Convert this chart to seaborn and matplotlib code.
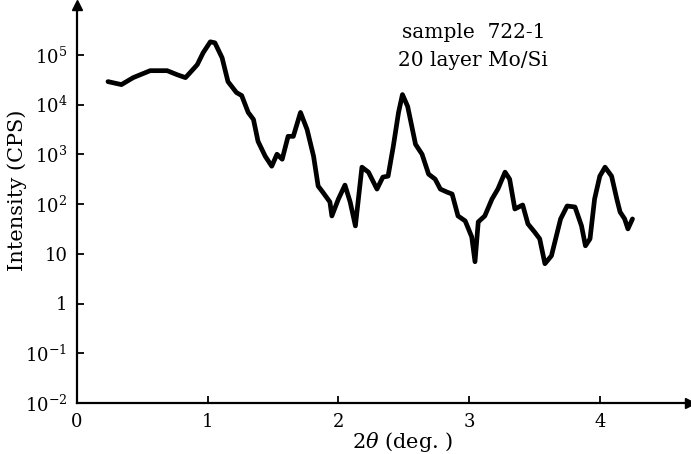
import matplotlib
matplotlib.use("Agg")
import matplotlib.pyplot as plt
import seaborn as sns
import numpy as np
import pandas as pd

# ---- data ----
two_theta = [0.237, 0.34, 0.43, 0.56, 0.69, 0.765, 0.83, 0.865, 0.92, 0.965,
             1.02, 1.055, 1.11, 1.155, 1.22, 1.26, 1.31, 1.35, 1.385, 1.44,
             1.49, 1.53, 1.57, 1.615, 1.655, 1.71, 1.76, 1.81, 1.845, 1.88,
             1.935, 1.95, 2.00, 2.05, 2.09, 2.13, 2.18, 2.23, 2.295, 2.34,
             2.38, 2.42, 2.46, 2.49, 2.53, 2.59, 2.64, 2.69, 2.74, 2.78,
             2.83, 2.87, 2.915, 2.97, 3.02, 3.045, 3.07, 3.12, 3.175, 3.22,
             3.275, 3.31, 3.35, 3.41, 3.45, 3.50, 3.54, 3.58, 3.63, 3.70,
             3.75, 3.81, 3.86, 3.89, 3.925, 3.96, 4.00, 4.04, 4.09, 4.13,
             4.155, 4.19, 4.215, 4.25]
log10_intensity = [4.46, 4.40, 4.54, 4.68, 4.68, 4.60, 4.54, 4.64, 4.80, 5.04,
                   5.26, 5.24, 4.94, 4.46, 4.24, 4.18, 3.84, 3.70, 3.26, 2.96,
                   2.76, 3.00, 2.90, 3.36, 3.36, 3.84, 3.50, 2.96, 2.36, 2.24,
                   2.04, 1.76, 2.10, 2.38, 2.04, 1.56, 2.74, 2.64, 2.30, 2.54,
                   2.56, 3.16, 3.84, 4.20, 3.96, 3.20, 3.00, 2.60, 2.50, 2.30,
                   2.24, 2.20, 1.76, 1.66, 1.34, 0.84, 1.64, 1.76, 2.10, 2.30,
                   2.64, 2.50, 1.90, 1.98, 1.60, 1.44, 1.30, 0.80, 0.96, 1.70,
                   1.96, 1.94, 1.56, 1.16, 1.30, 2.10, 2.56, 2.74, 2.56, 2.10,
                   1.84, 1.70, 1.50, 1.70]

x_ticks = [0, 1, 2, 3, 4]
x_tick_labels = ["0", "1", "2", "3", "4"]
y_ticks = [1e-2, 1e-1, 1, 10, 1e2, 1e3, 1e4, 1e5]
y_tick_labels = [r"10$^{-2}$", r"10$^{-1}$", "1", "10",
                 r"10$^{2}$", r"10$^{3}$", r"10$^{4}$", r"10$^{5}$"]
annotation_lines = ["sample  722-1", "20 layer Mo/Si"]

df = pd.DataFrame({"two_theta": two_theta,
                   "intensity": np.power(10.0, log10_intensity)})

sns.set_style("ticks")
plt.rcParams["font.family"] = ["DejaVu Serif"]
plt.rcParams["mathtext.fontset"] = "dejavuserif"
plt.rcParams["text.color"] = "black"
plt.rcParams["axes.labelcolor"] = "black"

W, H = 691, 454
fig = plt.figure(figsize=(W / 100, H / 100), dpi=100)
ax = fig.add_axes([77 / W, (H - 403) / H, (690 - 77) / W, (403 - 5) / H])

sns.lineplot(data=df, x="two_theta", y="intensity", ax=ax, color="black",
             linewidth=3.4, sort=False, estimator=None)
for ln in ax.get_lines():
    ln.set_solid_joinstyle("round")
    ln.set_solid_capstyle("round")

ax.set_yscale("log")
ax.set_xlim(0, 4.69)
ax.set_ylim(1e-2, 1e6)
ax.minorticks_off()

ax.set_xticks(x_ticks)
ax.set_xticklabels(x_tick_labels)
ax.set_yticks(y_ticks)
ax.set_yticklabels(y_tick_labels)
ax.tick_params(axis="both", direction="in", length=5, width=1.3,
               labelsize=13, colors="black", pad=7)

for s in ["top", "right"]:
    ax.spines[s].set_visible(False)
for s in ["left", "bottom"]:
    ax.spines[s].set_linewidth(1.6)
    ax.spines[s].set_color("black")

# axis arrows
ax.plot(1, 0, ">", color="black", markersize=7, transform=ax.transAxes, clip_on=False)
ax.plot(0, 1, "^", color="black", markersize=7, transform=ax.transAxes, clip_on=False)

ax.set_xlabel(r"2$\theta$ (deg. )", fontsize=15, color="black")
ax.set_ylabel("Intensity (CPS)", fontsize=15, color="black")
ax.xaxis.set_label_coords((403 - 77) / (690 - 77), -0.068)
ax.xaxis.label.set_va("top")
ax.yaxis.set_label_coords(-(77 - 27) / (690 - 77), 0.535)

fig.text(402 / W, 1 - 33 / H, annotation_lines[0], fontsize=14.5, va="center",
         ha="left", color="black")
fig.text(398 / W, 1 - 61 / H, annotation_lines[1], fontsize=14.5, va="center",
         ha="left", color="black")

fig.savefig("out.png", dpi=100)
